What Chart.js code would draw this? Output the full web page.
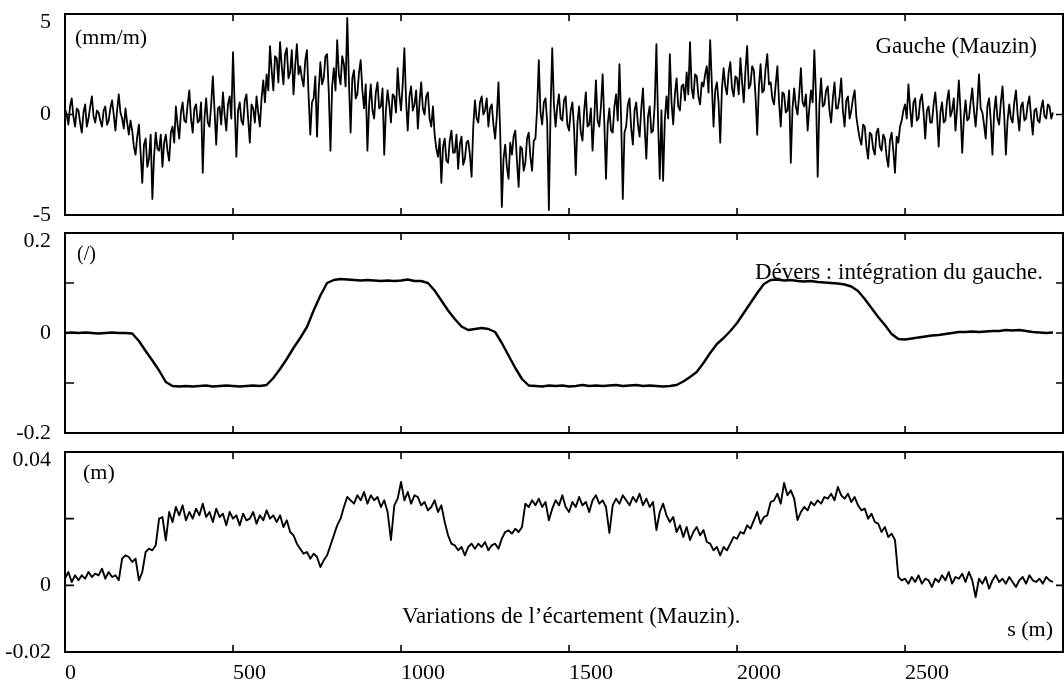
<!DOCTYPE html>
<html>
<head>
<meta charset="utf-8">
<script src="https://cdn.jsdelivr.net/npm/chart.js@4"></script>
<style>
  html,body{margin:0;padding:0;background:#fff;}
  #wrap{position:relative;width:1064px;height:684px;}
  canvas{position:absolute;left:0;top:0;}
</style>
</head>
<body>
<div id="wrap">
  <canvas id="c1" width="1064" height="684"></canvas>
  <canvas id="c2" width="1064" height="684"></canvas>
  <canvas id="c3" width="1064" height="684"></canvas>
</div>
<script>
// ---- data ----
const X_MIN = 0, X_MAX = 2970;
const X_TICKS = [0, 500, 1000, 1500, 2000, 2500];

// Gauche (Mauzin), mm/m, every 5 m from s = 0
const GAUCHE_STEP = 5;
const GAUCHE = [
  0.3,0.0,-0.5,0.4,0.8,-0.1,-0.6,0.3,0.2,-0.4,-0.9,0.1,0.5,-0.6,-0.2,0.4,0.9,-0.1,-0.4,0.2,
  0.1,-0.3,-0.6,0.2,0.4,-0.5,-0.3,0.3,0.7,0.0,-0.8,0.2,1.0,0.1,-0.2,-0.7,0.3,-0.4,-1.0,-0.3,
  -0.8,-1.6,-2.0,-1.1,-0.5,-1.9,-3.4,-1.5,-1.2,-2.6,-2.2,-1.0,-4.2,-2.1,-0.9,-1.7,-1.8,-1.0,-2.6,-1.4,
  -1.0,-1.8,-2.3,-0.9,-0.6,-1.4,0.4,-0.5,-1.2,0.1,0.6,-0.3,-0.4,0.5,1.2,-0.2,-0.9,0.3,0.5,-0.4,
  -0.3,0.6,-2.9,-0.2,0.8,-0.4,-0.6,0.5,1.9,0.2,-1.5,0.3,0.4,-0.5,1.1,0.0,-0.8,0.5,0.9,-0.2,
  3.1,0.4,-2.1,0.2,0.6,-0.3,-0.5,0.7,1.0,-0.2,-1.4,0.5,0.3,-0.4,0.9,0.1,-0.6,0.8,1.7,0.6,
  2.0,1.2,3.4,2.2,1.2,2.9,2.8,1.6,3.6,2.4,1.5,3.0,3.3,1.8,2.1,3.2,1.0,2.4,3.5,2.0,
  2.4,1.8,1.4,2.7,3.2,0.9,-1.0,0.6,0.8,1.9,-1.1,1.2,2.6,1.5,1.8,2.9,3.0,1.1,-1.8,1.4,
  2.3,1.2,3.7,2.0,1.5,2.9,2.5,1.4,4.8,1.6,-0.9,1.8,2.2,0.8,1.0,2.1,2.7,1.2,0.3,1.5,
  -1.8,0.5,1.5,0.2,-0.2,1.1,1.6,0.3,0.4,1.3,-2.0,0.2,1.2,0.5,-0.4,1.0,0.9,0.1,2.3,1.0,
  0.2,1.5,3.3,0.7,-0.8,0.9,1.4,0.2,0.5,1.2,-0.7,0.6,1.6,0.3,0.0,0.9,1.1,-0.2,-0.6,0.4,
  -1.0,-1.7,-2.1,-1.2,-3.4,-1.6,-1.2,-2.3,-2.4,-1.3,-0.8,-1.9,-1.9,-1.0,-2.7,-1.5,-1.1,-2.5,-2.2,-1.4,
  -1.3,-2.0,-3.1,-0.6,0.7,-0.2,-0.4,0.6,0.9,0.0,0.2,0.8,-0.6,0.3,0.5,-0.5,-1.2,-0.1,1.6,-0.8,
  -4.6,-2.2,-1.5,-2.6,-3.2,-1.4,-2.0,-1.1,-0.8,-2.3,-3.6,-1.6,-1.7,-2.8,-2.4,-1.2,-0.9,-2.1,-2.8,-1.3,
  -1.2,0.3,2.7,0.1,-0.5,0.6,0.8,-0.4,-4.75,0.2,3.3,0.5,-0.6,0.4,1.0,-0.2,-0.3,0.7,0.9,-0.5,
  -0.8,0.2,0.6,-0.7,-3.0,-0.4,0.4,-0.9,-1.3,0.2,1.1,-0.6,-0.5,0.3,-1.8,-0.2,1.7,-0.3,-0.6,0.4,
  2.0,-0.4,-3.2,-0.5,0.3,-0.8,-0.9,0.4,1.0,-0.3,2.5,-0.2,-4.2,-0.9,-0.6,0.5,0.8,-0.7,-1.5,0.2,
  0.6,-0.5,-1.1,0.3,1.3,-0.6,-2.2,-0.1,0.4,-0.9,-0.8,0.5,3.5,-0.4,-3.2,0.2,-3.3,-0.3,0.9,-0.2,
  3.0,0.6,-0.5,1.0,1.8,0.4,0.2,1.4,1.5,0.7,2.1,1.0,3.6,1.3,0.8,2.0,1.9,0.9,0.5,1.6,
  1.4,2.0,2.4,1.1,3.7,1.5,-0.6,1.2,1.6,0.6,-1.4,1.3,2.3,1.4,1.0,2.1,2.6,1.3,0.9,1.9,
  1.8,1.0,2.8,1.6,0.6,2.2,3.4,1.3,1.5,2.4,2.2,0.9,-1.0,1.4,2.5,1.1,1.2,2.3,3.0,1.5,
  1.6,0.8,0.5,1.5,2.4,0.6,-0.6,1.1,1.0,0.1,0.2,1.2,-2.4,0.3,1.3,0.4,0.0,1.0,2.3,0.6,
  0.4,1.0,-0.8,0.3,1.2,0.6,3.2,0.9,-3.1,0.5,1.8,0.4,0.5,1.2,1.4,0.2,-0.4,0.8,1.6,0.3,
  0.3,0.9,1.8,0.2,-0.6,0.7,0.9,-0.2,0.2,0.8,1.2,-0.1,-0.7,-1.2,-1.5,-0.5,-0.6,-1.6,-2.2,-0.9,
  -1.0,-1.7,-2.0,-0.9,-0.7,-1.6,-1.8,-1.0,-1.2,-2.1,-2.6,-1.3,-0.9,-1.8,-2.9,-1.1,-1.4,-0.6,-0.3,0.2,
  0.5,-0.2,1.5,0.3,-0.6,0.6,0.8,-0.3,-0.2,0.7,1.0,0.1,-1.2,0.2,0.4,-0.4,-0.4,0.5,1.1,0.0,
  -1.6,0.1,0.6,-0.4,-0.3,0.7,1.2,-0.1,0.2,0.8,-0.8,0.3,1.7,0.2,-1.9,-0.2,0.7,-0.3,-0.2,0.6,
  1.3,0.2,-0.6,0.5,2.0,0.3,0.1,-0.5,-1.2,0.4,0.8,-0.3,-2.0,0.1,0.9,-0.2,-0.5,0.6,1.4,0.0,
  -2.0,-0.3,0.5,-0.2,-0.4,0.6,1.2,0.0,-0.8,0.4,0.6,-0.3,-0.2,0.5,0.9,-0.1,-1.0,0.2,0.3,-0.3,
  -0.4,0.3,0.7,-0.1,-0.2,0.5,0.4,-0.2,0.1
];
const GAUCHE_TICKS = [-5, 0, 5];
const GAUCHE_LABELS = {"-5": "-5", "0": "0", "5": "5"};

// Dévers, every 20 m from s = 0
const DEVERS_STEP = 20;
const DEVERS = [
  0.000,0.001,0.000,0.001,0.000,-0.001,0.000,0.001,0.000,0.000,
  -0.001,-0.016,-0.036,-0.055,-0.075,-0.098,-0.106,-0.107,-0.106,-0.107,
  -0.106,-0.105,-0.107,-0.106,-0.105,-0.106,-0.107,-0.106,-0.105,-0.106,
  -0.104,-0.090,-0.072,-0.052,-0.030,-0.010,0.012,0.045,0.075,0.100,
  0.106,0.108,0.107,0.106,0.105,0.106,0.105,0.104,0.105,0.104,
  0.105,0.107,0.104,0.104,0.100,0.085,0.065,0.045,0.028,0.013,
  0.006,0.008,0.010,0.008,0.002,-0.020,-0.045,-0.070,-0.092,-0.105,
  -0.106,-0.107,-0.105,-0.106,-0.105,-0.107,-0.106,-0.104,-0.106,-0.105,
  -0.106,-0.105,-0.104,-0.106,-0.105,-0.104,-0.106,-0.105,-0.106,-0.107,
  -0.106,-0.104,-0.097,-0.088,-0.078,-0.060,-0.040,-0.022,-0.010,0.004,
  0.020,0.040,0.060,0.080,0.098,0.106,0.107,0.105,0.106,0.104,
  0.103,0.104,0.102,0.101,0.100,0.099,0.097,0.093,0.084,0.068,
  0.050,0.032,0.016,-0.002,-0.012,-0.013,-0.011,-0.009,-0.007,-0.005,
  -0.004,-0.002,0.000,0.002,0.002,0.003,0.002,0.003,0.004,0.004,
  0.006,0.005,0.006,0.004,0.002,0.001,0.000,0.001
];
const DEVERS_TICKS = [-0.2, -0.1, 0, 0.1, 0.2];
const DEVERS_LABELS = {"-0.2": "-0.2", "0": "0", "0.2": "0.2"};

// Variations de l'écartement, m, every 10 m from s = 0
const ECART_STEP = 10;
const ECART = [
  0.002,0.004,0.001,0.003,0.0015,0.003,0.002,0.004,0.0025,0.0035,
  0.003,0.005,0.002,0.004,0.0025,0.003,0.0015,0.008,0.009,0.0085,
  0.007,0.008,0.0015,0.004,0.010,0.011,0.0105,0.012,0.020,0.0205,
  0.0135,0.022,0.019,0.0235,0.021,0.024,0.0195,0.022,0.020,0.023,
  0.021,0.0245,0.0205,0.022,0.019,0.023,0.0205,0.0215,0.018,0.022,
  0.020,0.021,0.018,0.0215,0.0195,0.020,0.022,0.0185,0.021,0.0195,
  0.0225,0.020,0.021,0.019,0.021,0.0175,0.0195,0.016,0.015,0.0125,
  0.011,0.0095,0.010,0.008,0.0095,0.0085,0.0055,0.0075,0.009,0.012,
  0.015,0.018,0.020,0.0235,0.0265,0.0255,0.0245,0.027,0.0255,0.028,
  0.0245,0.027,0.0255,0.0265,0.0235,0.0255,0.022,0.0136,0.024,0.026,
  0.031,0.0255,0.028,0.0245,0.027,0.0265,0.024,0.025,0.0225,0.0235,
  0.0255,0.022,0.024,0.019,0.015,0.0125,0.012,0.0105,0.0115,0.009,
  0.0115,0.0125,0.011,0.0125,0.0115,0.013,0.0105,0.012,0.0125,0.011,
  0.014,0.016,0.0165,0.0155,0.017,0.016,0.0175,0.0245,0.0235,0.0255,
  0.024,0.026,0.0235,0.025,0.0195,0.023,0.0255,0.024,0.027,0.0235,
  0.022,0.025,0.0235,0.0265,0.024,0.025,0.022,0.0255,0.027,0.0245,
  0.0255,0.0235,0.0157,0.024,0.026,0.0245,0.027,0.0255,0.024,0.0265,
  0.025,0.0275,0.024,0.026,0.0235,0.025,0.0166,0.022,0.0245,0.021,
  0.019,0.0205,0.016,0.018,0.0145,0.0175,0.0136,0.016,0.0175,0.015,
  0.0166,0.013,0.0125,0.0105,0.0115,0.009,0.0115,0.0105,0.0125,0.0145,
  0.014,0.016,0.0155,0.018,0.017,0.0195,0.022,0.0185,0.0205,0.021,
  0.025,0.0255,0.0275,0.0245,0.0307,0.027,0.0285,0.026,0.0196,0.022,
  0.0235,0.0225,0.025,0.024,0.0255,0.0245,0.0265,0.026,0.0275,0.0255,
  0.0295,0.027,0.026,0.0275,0.025,0.0265,0.024,0.0225,0.023,0.020,
  0.0215,0.019,0.0185,0.016,0.0175,0.0145,0.0155,0.0136,0.0025,0.0015,
  0.002,0.0005,0.0025,0.001,0.003,0.0005,0.002,0.0015,-0.0005,0.002,
  0.001,0.003,0.0015,0.004,0.0005,0.0025,0.002,0.0035,0.001,0.004,
  0.0015,-0.0035,0.002,0.0005,0.0025,-0.001,0.0015,0.003,0.001,0.002,
  0.0005,0.0025,0.001,-0.0005,0.0015,0.0025,0.0005,0.003,0.0015,0.001,
  0.002,0.0005,0.0025,0.0015,0.001
];
const ECART_TICKS = [-0.02, 0, 0.02, 0.04];
const ECART_LABELS = {"-0.02": "-0.02", "0": "0", "0.04": "0.04"};

// ---- helpers ----
const FONT = "'Liberation Serif', 'Times New Roman', serif";
const toPoints = (arr, step) => arr.map((v, i) => ({x: i * step, y: v}));
const fmt = v => String(Math.round(v * 1000) / 1000);

const framePlugin = {
  id: 'frame',
  afterDatasetsDraw(chart) {
    const {ctx, chartArea: a, scales} = chart;
    ctx.save();
    ctx.strokeStyle = '#000';
    ctx.lineWidth = 2;
    ctx.strokeRect(a.left, a.top, a.right - a.left, a.bottom - a.top);
    ctx.lineWidth = 1.6;
    const tl = 7;
    scales.x.ticks.forEach(t => {
      const px = scales.x.getPixelForValue(t.value);
      ctx.beginPath();
      ctx.moveTo(px, a.top); ctx.lineTo(px, a.top + tl);
      ctx.moveTo(px, a.bottom); ctx.lineTo(px, a.bottom - tl);
      ctx.stroke();
    });
    scales.y.ticks.forEach(t => {
      const py = scales.y.getPixelForValue(t.value);
      ctx.beginPath();
      ctx.moveTo(a.left, py); ctx.lineTo(a.left + tl + 2, py);
      ctx.moveTo(a.right, py); ctx.lineTo(a.right - tl, py);
      ctx.stroke();
    });
    ctx.fillStyle = '#000';
    ctx.textBaseline = 'middle';
    // top y label, set just below the top edge as in the original
    const y = scales.y;
    const topText = chart.options.plugins.yLabels[fmt(y.max)];
    if (topText) {
      ctx.font = '22px ' + FONT;
      ctx.textAlign = 'right';
      ctx.fillText(topText, a.left - 14, a.top + 8);
    }
    const notes = chart.options.plugins.notes || [];
    notes.forEach(n => {
      ctx.font = n.size + 'px ' + FONT;
      ctx.textAlign = n.align;
      const x = n.fromRight ? a.right - n.dx : a.left + n.dx;
      ctx.fillText(n.text, x, a.top + n.dy);
    });
    ctx.restore();
  }
};

function makeChart(id, points, lineW, yMin, yMax, yTicks, yLabels, padTop, padBottom, showX, notes) {
  return new Chart(document.getElementById(id), {
    type: 'line',
    data: {datasets: [{
      data: points,
      borderColor: '#000',
      borderWidth: lineW,
      pointRadius: 0,
      tension: 0,
      borderJoinStyle: 'round',
      fill: false
    }]},
    options: {
      responsive: false,
      animation: false,
      layout: {padding: {left: 0, right: 1, top: padTop, bottom: padBottom}},
      plugins: {legend: {display: false}, tooltip: {enabled: false}, notes: notes, yLabels: yLabels},
      scales: {
        x: {
          type: 'linear', min: X_MIN, max: X_MAX,
          afterBuildTicks: s => { s.ticks = X_TICKS.map(v => ({value: v})); },
          ticks: {
            display: showX, align: 'start', padding: 8, color: '#000',
            font: {family: FONT, size: 22},
            callback: v => String(v)
          },
          grid: {display: false, drawTicks: false},
          border: {display: false},
          afterFit: s => { s.height = showX ? 32 : 0; s.paddingLeft = 0; s.paddingRight = 0; }
        },
        y: {
          type: 'linear', min: yMin, max: yMax,
          afterBuildTicks: s => { s.ticks = yTicks.map(v => ({value: v})); },
          ticks: {
            padding: 14, color: '#000',
            font: {family: FONT, size: 22},
            callback: v => (v === yMax ? '' : (yLabels[fmt(v)] || ''))
          },
          grid: {display: false, drawTicks: false},
          border: {display: false},
          afterFit: s => { s.width = 65; s.paddingTop = 0; s.paddingBottom = 0; }
        }
      }
    },
    plugins: [framePlugin]
  });
}

makeChart('c1', toPoints(GAUCHE, GAUCHE_STEP), 1.8, -5, 5, GAUCHE_TICKS, GAUCHE_LABELS, 14, 469, false,
  [{text: '(mm/m)', size: 22, align: 'left', dx: 10, dy: 24},
   {text: 'Gauche (Mauzin)', size: 23, align: 'right', fromRight: true, dx: 26, dy: 33}]);

makeChart('c2', toPoints(DEVERS, DEVERS_STEP), 2.4, -0.2, 0.2, DEVERS_TICKS, DEVERS_LABELS, 233, 251, false,
  [{text: '(/)', size: 20, align: 'left', dx: 12, dy: 22},
   {text: 'Dévers : intégration du gauche.', size: 23, align: 'right', fromRight: true, dx: 20, dy: 40}]);

makeChart('c3', toPoints(ECART, ECART_STEP), 1.9, -0.02, 0.04, ECART_TICKS, ECART_LABELS, 452, 0, true,
  [{text: '(m)', size: 22, align: 'left', dx: 18, dy: 21},
   {text: 'Variations de l\u2019écartement (Mauzin).', size: 23, align: 'left', dx: 337, dy: 165},
   {text: 's (m)', size: 22, align: 'right', fromRight: true, dx: 10, dy: 178}]);
</script>
</body>
</html>
